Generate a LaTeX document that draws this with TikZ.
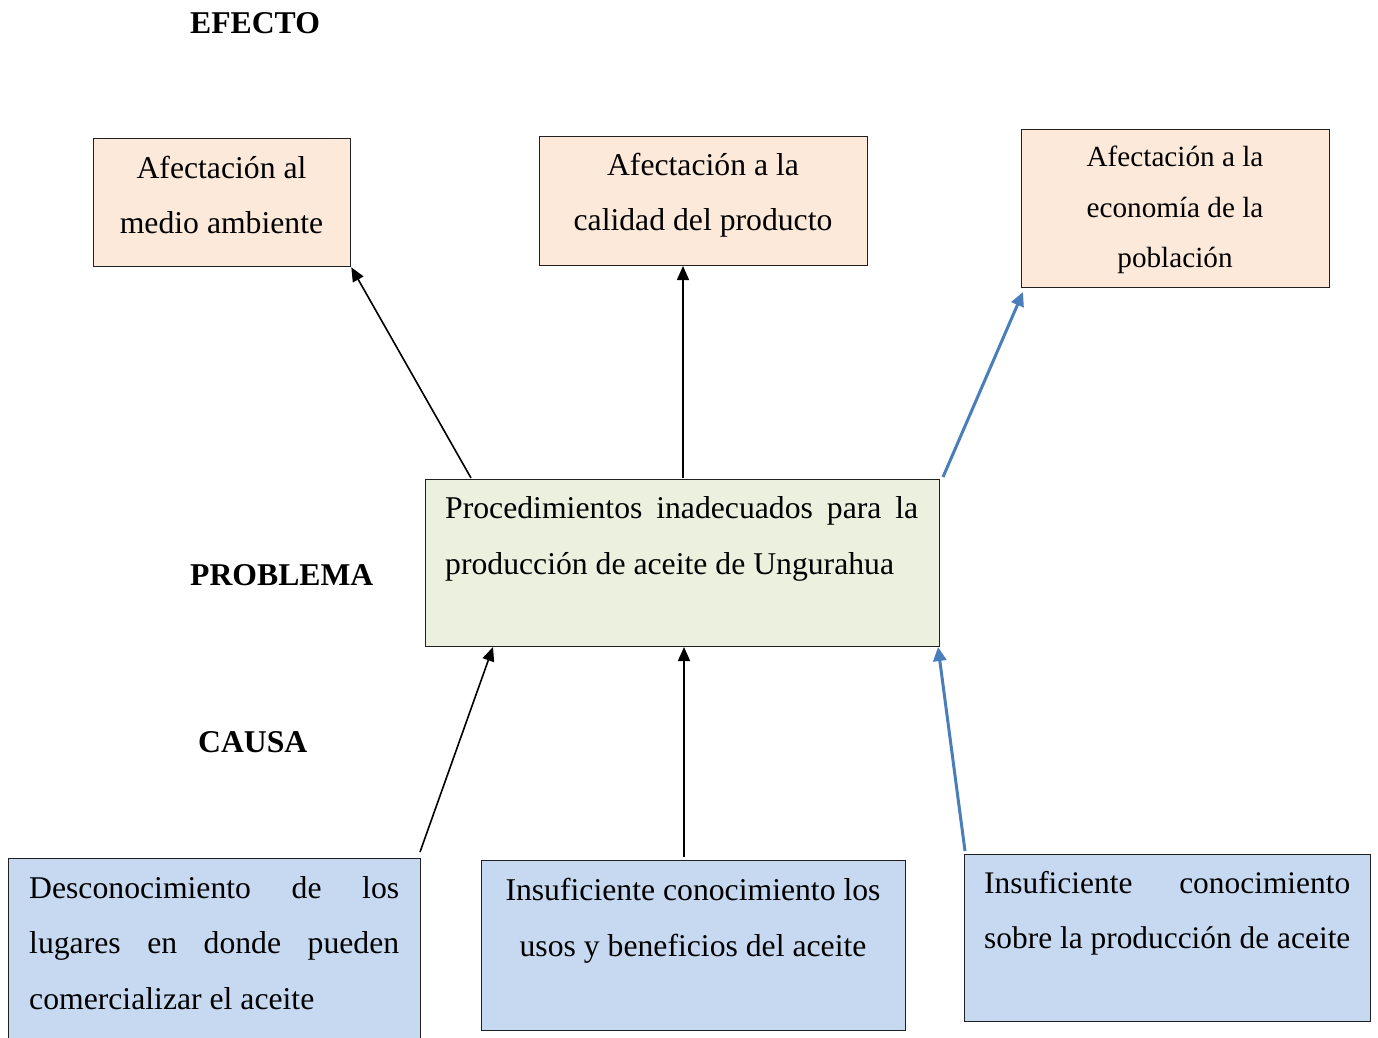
\documentclass[tikz,border=0pt]{standalone}
\usepackage{fontspec}
\setmainfont{Liberation Serif}
\usetikzlibrary{arrows.meta}
\definecolor{peach}{HTML}{FDE9D9}
\definecolor{pgreen}{HTML}{EBF1DE}
\definecolor{pblue}{HTML}{C6D9F1}
\definecolor{arrblue}{HTML}{4A7EBB}
\definecolor{edge}{HTML}{202020}
\tikzset{
  box/.style={draw=edge, line width=1.3pt, rectangle, anchor=north west, inner sep=0pt},
  txt/.style={anchor=base, inner sep=0pt, font=\fontsize{31.7}{38}\selectfont},
  txtl/.style={anchor=base west, inner sep=0pt, font=\fontsize{31.7}{38}\selectfont},
  txts/.style={anchor=base, inner sep=0pt, font=\fontsize{29.2}{35}\selectfont},
  lbl/.style={anchor=base west, inner sep=0pt, font=\fontsize{31.7}{38}\selectfont\bfseries},
  blackarr/.style={line width=1.6pt, -{Triangle[length=14pt,width=12pt]}},
  bluearr/.style={draw=arrblue, line width=3pt, -{Triangle[length=14pt,width=13pt]}}
}
\begin{document}
\begin{tikzpicture}[x=1pt,y=-1pt]
\clip (0,0) rectangle (1378,1037);
\fill[white] (0,0) rectangle (1378,1037);

% labels
\node[lbl] (lefecto) at (190,33) {EFECTO};
\node[lbl] (lproblema) at (190,585) {PROBLEMA};
\node[lbl] (lcausa) at (198,752) {CAUSA};

% effect boxes
\node[box, fill=peach, minimum width=257pt, minimum height=128pt] (e1) at (93,138) {};
\node[txt] (e1a) at (221.5,178) {Afectación al};
\node[txt] (e1b) at (221.5,233) {medio ambiente};

\node[box, fill=peach, minimum width=328pt, minimum height=129pt] (e2) at (539,136) {};
\node[txt] (e2a) at (703,175) {Afectación a la};
\node[txt] (e2b) at (703,230) {calidad del producto};

\node[box, fill=peach, minimum width=308pt, minimum height=158pt] (e3) at (1021,129) {};
\node[txts] (e3a) at (1175,166) {Afectación a la};
\node[txts] (e3b) at (1175,217) {economía de la};
\node[txts] (e3c) at (1175,267) {población};

% problem box
\node[box, fill=pgreen, minimum width=514pt, minimum height=167pt] (p) at (425,479) {};
\node[txtl] (pa) at (445,518) {\makebox[473pt][s]{Procedimientos inadecuados para la}};
\node[txtl] (pb) at (445,574) {producción de aceite de Ungurahua};

% cause boxes
\node[box, fill=pblue, minimum width=412pt, minimum height=200pt] (c1) at (8,858) {};
\node[txtl] (c1a) at (29,898) {\makebox[370pt][s]{Desconocimiento de los}};
\node[txtl] (c1b) at (29,953) {\makebox[370pt][s]{lugares en donde pueden}};
\node[txtl] (c1c) at (29,1009) {comercializar el aceite};

\node[box, fill=pblue, minimum width=424pt, minimum height=170pt] (c2) at (481,860) {};
\node[txt] (c2a) at (693,900) {Insuficiente conocimiento los};
\node[txt] (c2b) at (693,956) {usos y beneficios del aceite};

\node[box, fill=pblue, minimum width=406pt, minimum height=167pt] (c3) at (964,854) {};
\node[txtl, font=\fontsize{31.4}{38}\selectfont] (c3a) at (984,893) {\makebox[366pt][s]{Insuficiente conocimiento}};
\node[txtl, font=\fontsize{31.4}{38}\selectfont] (c3b) at (984,948) {sobre la producción de aceite};

% connector endpoints
\coordinate (s1) at (471,478);
\coordinate (s2) at (683,478);
\coordinate (s3) at (943,477);
\coordinate (t2) at (683,266);
\coordinate (t3) at (1023,292);
\coordinate (s4) at (420,852);
\coordinate (s5) at (684,857);
\coordinate (s6) at (965,851);
\coordinate (t4) at (493,647);
\coordinate (t5) at (684,647);
\coordinate (t6) at (938,647);

\draw[blackarr] (s1) -- (e1.south east);
\draw[blackarr] (s2) -- (t2);
\draw[bluearr] (s3) -- (t3);
\draw[blackarr] (s4) -- (t4);
\draw[blackarr] (s5) -- (t5);
\draw[bluearr] (s6) -- (t6);
\end{tikzpicture}
\end{document}
